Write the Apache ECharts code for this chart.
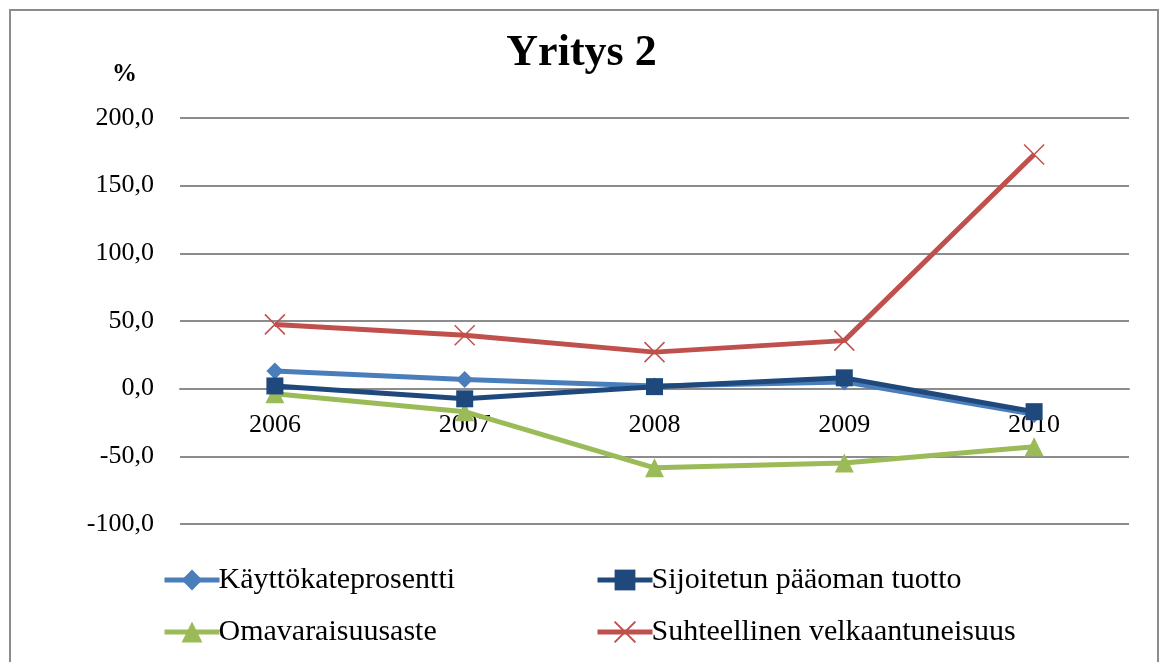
<!DOCTYPE html>
<html><head><meta charset="utf-8">
<script src="https://cdn.jsdelivr.net/npm/echarts@6/dist/echarts.min.js"></script>
<style>html,body{margin:0;padding:0;background:#fff}#c{width:1163px;height:662px}</style>
</head><body><div id="c"></div>
<script>
var categories = ['2006','2007','2008','2009','2010'];
var kayttokate = [13.0, 6.7, 2.0, 5.0, -19.0];
var sijoitetun = [2.0, -7.5, 1.5, 8.0, -17.0];
var omavaraisuus = [-3.7, -17.0, -58.5, -55.0, -43.0];
var suhteellinen = [47.5, 39.5, 27.0, 35.5, 173.0];
var names = ['Käyttökateprosentti','Sijoitetun pääoman tuotto','Omavaraisuusaste','Suhteellinen velkaantuneisuus'];

var serif = '"Liberation Serif", "Times New Roman", serif';
var chart = echarts.init(document.getElementById('c'));
var xPath = 'path://M0,0L10,10M10,0L0,10';
var legendCommon = {orient:'vertical',top:560,itemGap:22,itemWidth:55,itemHeight:26,
  lineStyle:{width:5},
  textStyle:{fontFamily:serif,fontSize:30,color:'#000',padding:[0,0,0,-6]}};
chart.setOption({
  animation:false,
  backgroundColor:'#fff',
  graphic:[
    {type:'rect',shape:{x:10,y:10,width:1148,height:700},style:{fill:'none',stroke:'#8c8c8c',lineWidth:2}},
    {type:'text',left:112,top:62,style:{text:'%',font:'bold 25px "Liberation Serif", serif',fill:'#000'}}
  ],
  title:{text:'Yritys 2',left:'center',top:27,textStyle:{fontFamily:serif,fontSize:44,fontWeight:'bold',color:'#000'}},
  grid:{left:180,right:34,top:118,bottom:138},
  legend:[
    Object.assign({data:[names[0],names[2]],left:157}, legendCommon),
    Object.assign({data:[names[1],names[3]],left:590}, legendCommon)
  ],
  xAxis:{type:'category',data:categories,boundaryGap:true,offset:-135,
    axisLine:{onZero:false,lineStyle:{color:'#8c8c8c',width:2}},axisTick:{show:false},
    axisLabel:{fontFamily:serif,fontSize:26,color:'#000',margin:23}},
  yAxis:{type:'value',min:-100,max:200,interval:50,
    axisLine:{show:false},axisTick:{show:false},
    splitLine:{lineStyle:{color:'#8c8c8c',width:2}},
    axisLabel:{fontFamily:serif,fontSize:26,color:'#000',margin:26,
      formatter:function(v){return v.toFixed(1).replace('.',',');}}},
  series:[
    {name:names[0],type:'line',data:kayttokate,symbol:'diamond',symbolSize:17,
     lineStyle:{color:'#4a7ebb',width:5},itemStyle:{color:'#4a7ebb'},z:2},
    {name:names[1],type:'line',data:sijoitetun,symbol:'rect',symbolSize:17,
     lineStyle:{color:'#1f497d',width:5},itemStyle:{color:'#1f497d'},z:3},
    {name:names[2],type:'line',data:omavaraisuus,symbol:'triangle',symbolSize:19,
     lineStyle:{color:'#9bbb59',width:5},itemStyle:{color:'#9bbb59'},z:2},
    {name:names[3],type:'line',data:suhteellinen,symbol:xPath,symbolSize:20,
     lineStyle:{color:'#c0504d',width:5},itemStyle:{color:'#c0504d',borderColor:'#c0504d',borderWidth:1.5},z:2}
  ]
});
</script></body></html>
